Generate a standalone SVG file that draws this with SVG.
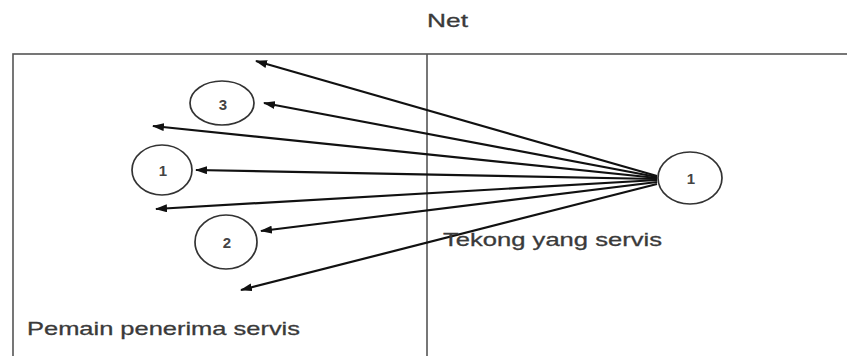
<svg xmlns="http://www.w3.org/2000/svg" width="847" height="356" viewBox="0 0 847 356">
<style>
.frame{fill:none;stroke:#555;stroke-width:1.6}
.node ellipse{fill:#fff;stroke:#333;stroke-width:1.7}
.num{font-family:"Liberation Sans",Arial,sans-serif;font-size:15px;font-weight:bold;fill:#444;text-anchor:middle}
.lbl{font-family:"Liberation Sans",Arial,sans-serif;font-size:19px;fill:#3a3a3a;stroke:#3a3a3a;stroke-width:0.3}
.conn line{stroke:#111;stroke-width:2.2;marker-end:url(#ah)}
</style>
<defs>
<marker id="ah" markerUnits="userSpaceOnUse" markerWidth="12" markerHeight="8" refX="11" refY="4" orient="auto">
<path d="M0,0 L12,4 L0,8 z" fill="#111"/>
</marker>
</defs>
<rect width="847" height="356" fill="#fff"/>
<text class="lbl" x="427" y="27" textLength="41" lengthAdjust="spacingAndGlyphs">Net</text>
<rect class="frame" x="13" y="54" width="840" height="320"/>
<line class="frame" x1="427" y1="54" x2="427" y2="356"/>
<g id="connectors" class="conn">
<line x1="657" y1="176" x2="256" y2="61"/>
<line x1="657" y1="177" x2="264" y2="103"/>
<line x1="657" y1="178" x2="153" y2="126"/>
<line x1="657" y1="179" x2="196" y2="170"/>
<line x1="657" y1="180" x2="156" y2="209"/>
<line x1="657" y1="182" x2="261" y2="231"/>
<line x1="657" y1="184" x2="241" y2="290"/>
</g>
<g id="node-server" class="node">
<ellipse cx="690" cy="178" rx="32" ry="26"/>
<text class="num" x="691" y="184">1</text>
</g>
<g id="node-3" class="node">
<ellipse cx="222" cy="103" rx="32" ry="22"/>
<text class="num" x="223" y="110">3</text>
</g>
<g id="node-1" class="node">
<ellipse cx="162" cy="170" rx="30" ry="25"/>
<text class="num" x="163" y="176">1</text>
</g>
<g id="node-2" class="node">
<ellipse cx="226" cy="242" rx="31" ry="27"/>
<text class="num" x="227" y="248">2</text>
</g>
<text class="lbl" x="443" y="246" textLength="219" lengthAdjust="spacingAndGlyphs">Tekong yang servis</text>
<text class="lbl" x="27" y="335" textLength="273" lengthAdjust="spacingAndGlyphs">Pemain penerima servis</text>
</svg>
